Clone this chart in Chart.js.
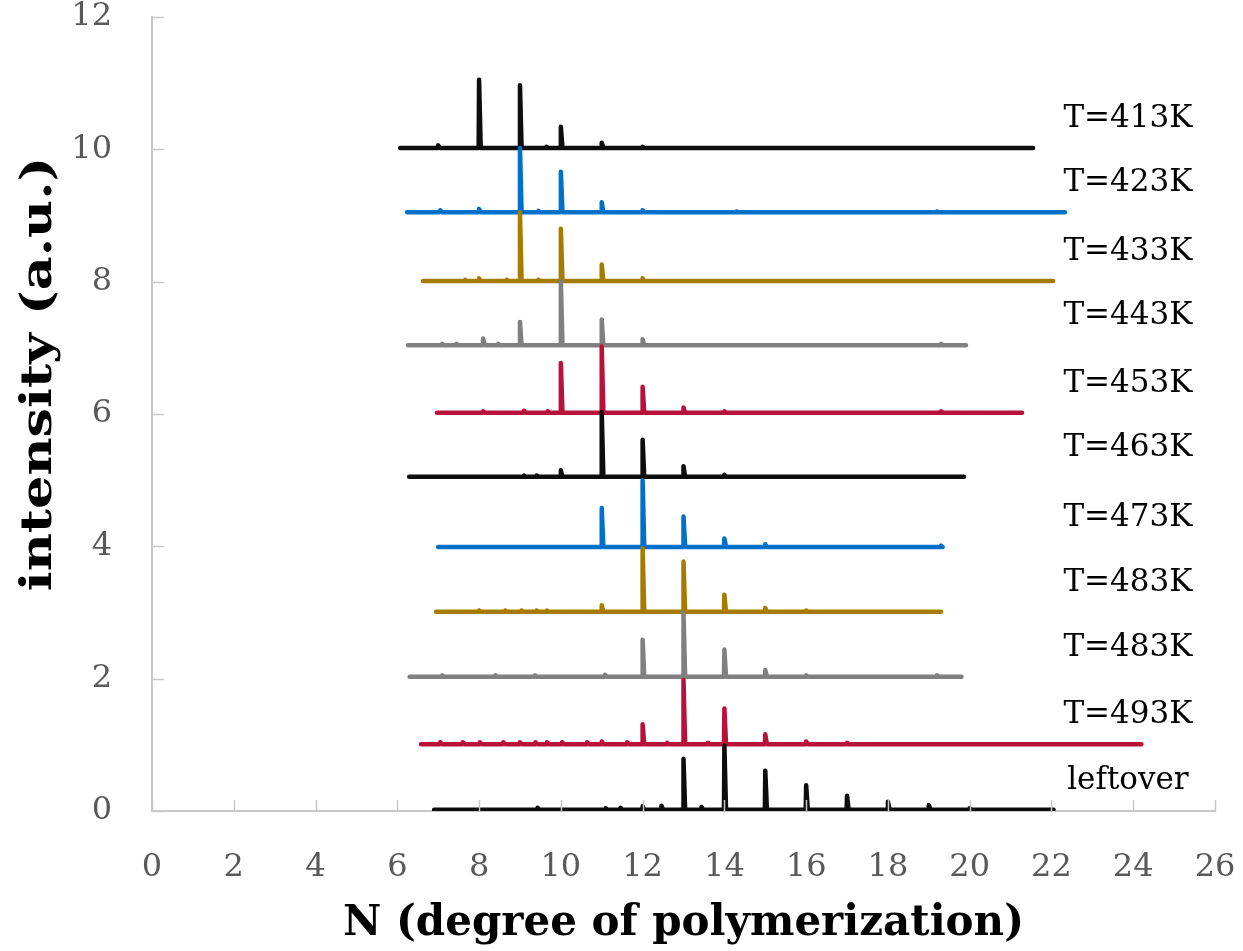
<!DOCTYPE html>
<html>
<head>
<meta charset="utf-8">
<script src="https://cdn.jsdelivr.net/npm/chart.js@4"></script>
<style>
  html, body { margin: 0; padding: 0; background: #fff; }
  #wrap { width: 1243px; height: 951px; }
</style>
</head>
<body>
<div id="wrap"><canvas id="chart" width="1243" height="951"></canvas></div>
<script>
// axis ticks
const xTicks = [0, 2, 4, 6, 8, 10, 12, 14, 16, 18, 20, 22, 24, 26];
const yTicks = [0, 2, 4, 6, 8, 10, 12];

// series (top to bottom)
const seriesLabels = ['T=413K', 'T=423K', 'T=433K', 'T=443K', 'T=453K', 'T=463K',
                      'T=473K', 'T=483K', 'T=483K', 'T=493K', 'leftover'];
const seriesColors = ['#0d0d0d', '#0070c8', '#a67c00', '#808080', '#b9123a', '#0d0d0d',
                      '#0070c8', '#a67c00', '#808080', '#b9123a', '#0d0d0d'];
const baselines = [10.02, 9.05, 8.01, 7.04, 6.02, 5.05, 3.99, 3.01, 2.03, 1.01, 0.02];
const startN = [6.07, 6.24, 6.63, 6.26, 6.97, 6.29, 7.0, 6.95, 6.3, 6.58, 6.9];
const endN = [21.55, 22.33, 22.04, 19.91, 21.28, 19.86, 19.3, 19.3, 19.8, 24.2, 22.05];

// peak positions (N) and peak intensity
const peakN_413 = [7, 8, 9, 9.65, 10, 11, 12];
const peakI_413 = [10.06, 11.05, 10.97, 10.04, 10.34, 10.1, 10.04];
const peakN_423 = [7.05, 8, 9, 9.45, 10, 11, 12, 14.3, 19.2];
const peakI_423 = [9.08, 9.1, 10.02, 9.07, 9.66, 9.2, 9.08, 9.06, 9.06];
const peakN_433 = [7.66, 8, 8.68, 9, 9.45, 10, 11, 12];
const peakI_433 = [8.03, 8.05, 8.03, 9.05, 8.03, 8.8, 8.26, 8.05];
const peakN_443 = [7.1, 7.45, 8.1, 8.47, 9, 10, 11, 12, 19.3];
const peakI_443 = [7.06, 7.06, 7.14, 7.06, 7.39, 8.01, 7.43, 7.13, 7.06];
const peakN_453 = [8.1, 9.1, 9.68, 10, 11, 12, 13, 14, 19.3];
const peakI_453 = [6.04, 6.05, 6.04, 6.77, 7.02, 6.41, 6.1, 6.04, 6.04];
const peakN_463 = [9.1, 9.41, 10, 11, 12, 13, 14];
const peakI_463 = [5.07, 5.07, 5.15, 6.03, 5.61, 5.21, 5.08];
const peakN_473 = [11, 12, 13, 14, 15, 19.3];
const peakI_473 = [4.58, 5.0, 4.45, 4.12, 4.03, 4.01];
const peakN_483a = [8, 8.64, 9.04, 9.41, 9.66, 11, 12, 13, 14, 15, 16];
const peakI_483a = [3.03, 3.03, 3.03, 3.03, 3.03, 3.11, 3.97, 3.77, 3.27, 3.07, 3.03];
const peakN_483b = [7.1, 8.4, 9.37, 11.08, 12, 13, 14, 15, 16, 19.2];
const peakI_483b = [2.05, 2.05, 2.05, 2.06, 2.59, 3.0, 2.44, 2.13, 2.05, 2.05];
const peakN_493 = [7.05, 7.6, 8.02, 8.59, 9, 9.38, 9.66, 10.03, 10.64, 11, 11.62,
                   12, 12.6, 13, 13.6, 14, 15, 16, 17];
const peakI_493 = [1.04, 1.04, 1.04, 1.04, 1.04, 1.04, 1.04, 1.04, 1.04, 1.05, 1.04,
                   1.31, 1.03, 1.98, 1.03, 1.55, 1.16, 1.05, 1.03];
const peakN_left = [9.43, 11.1, 11.46, 12, 12.46, 13, 13.44, 14, 15, 16, 17, 18, 19, 20];
const peakI_left = [0.05, 0.04, 0.05, 0.07, 0.08, 0.79, 0.06, 0.99, 0.61, 0.39, 0.23, 0.14, 0.09, 0.04];

const peakN = [peakN_413, peakN_423, peakN_433, peakN_443, peakN_453, peakN_463,
               peakN_473, peakN_483a, peakN_483b, peakN_493, peakN_left];
const peakI = [peakI_413, peakI_423, peakI_433, peakI_443, peakI_453, peakI_463,
               peakI_473, peakI_483a, peakI_483b, peakI_493, peakI_left];

const FONT = "'DejaVu Serif', Georgia, serif";

// build a spectrum trace: flat baseline with narrow peaks
function buildTrace(i) {
    const base = baselines[i];
    const pts = [{ x: startN[i], y: base }];
    for (let k = 0; k < peakN[i].length; k++) {
        const n = peakN[i][k];
        pts.push({ x: n - 0.01, y: base });
        pts.push({ x: n, y: peakI[i][k] });
        pts.push({ x: n + 0.04, y: base });
    }
    pts.push({ x: endN[i], y: base });
    return pts;
}

const datasets = seriesLabels.map(function(label, i) {
    return {
        label: label,
        data: buildTrace(i),
        borderColor: seriesColors[i],
        borderWidth: 4.5,
        borderCapStyle: 'round',
        borderJoinStyle: 'round',
        pointRadius: 0,
        showLine: true,
        fill: false,
        tension: 0
    };
}).reverse();

// short tick marks pointing into the plot
const innerTicks = {
    id: 'innerTicks',
    afterDatasetsDraw(chart) {
        const ctx = chart.ctx;
        const xs = chart.scales.x, ys = chart.scales.y;
        ctx.save();
        ctx.strokeStyle = '#c8c8c8';
        ctx.lineWidth = 1.5;
        xTicks.forEach(function(v) {
            const px = Math.round(xs.getPixelForValue(v)) + 0.5;
            ctx.beginPath();
            ctx.moveTo(px, ys.bottom);
            ctx.lineTo(px, ys.bottom - 11);
            ctx.stroke();
        });
        yTicks.forEach(function(v) {
            const py = Math.round(ys.getPixelForValue(v)) + 0.5;
            ctx.beginPath();
            ctx.moveTo(xs.left, py);
            ctx.lineTo(xs.left + 12, py);
            ctx.stroke();
        });
        ctx.restore();
    }
};

// temperature labels to the right of each trace, and the y axis title
const traceLabels = {
    id: 'traceLabels',
    afterDatasetsDraw(chart) {
        const ctx = chart.ctx;
        const xs = chart.scales.x, ys = chart.scales.y;
        ctx.save();
        ctx.fillStyle = '#000';
        ctx.font = '31px ' + FONT;
        ctx.textAlign = 'center';
        ctx.textBaseline = 'middle';
        seriesLabels.forEach(function(label, i) {
            ctx.fillText(label, xs.getPixelForValue(23.87), ys.getPixelForValue(baselines[i] + 0.44));
        });
        ctx.restore();

        // y title, a little stretched along its length like the original
        ctx.save();
        ctx.translate(40, (ys.top + ys.bottom) / 2 - 40);
        ctx.rotate(-Math.PI / 2);
        ctx.scale(1.22, 1);
        ctx.fillStyle = '#000';
        ctx.font = 'bold 43px ' + FONT;
        ctx.textAlign = 'center';
        ctx.textBaseline = 'middle';
        ctx.fillText('intensity (a.u.)', 0, 0);
        ctx.restore();
    }
};

function clearPadding(scale) {
    scale.paddingTop = 0;
    scale.paddingBottom = 0;
    scale.paddingLeft = 0;
    scale.paddingRight = 0;
}

new Chart(document.getElementById('chart'), {
    type: 'scatter',
    data: { datasets: datasets },
    plugins: [innerTicks, traceLabels],
    options: {
        responsive: false,
        animation: false,
        layout: { padding: { top: 17, right: 28, left: 0, bottom: 0 } },
        plugins: {
            legend: { display: false },
            tooltip: { enabled: false }
        },
        scales: {
            x: {
                type: 'linear',
                min: 0,
                max: 26,
                afterBuildTicks: function(scale) {
                    scale.ticks = xTicks.map(v => ({ value: v }));
                },
                afterFit: function(scale) { scale.height = 140; clearPadding(scale); },
                grid: { drawOnChartArea: false, drawTicks: false },
                border: { color: '#c8c8c8', width: 2 },
                ticks: {
                    color: '#595959',
                    font: { family: FONT, size: 32 },
                    padding: 37,
                    maxRotation: 0
                },
                title: {
                    display: true,
                    text: 'N (degree of polymerization)',
                    color: '#000',
                    font: { family: FONT, size: 42, weight: 'bold' },
                    padding: { top: 0, bottom: 2 }
                }
            },
            y: {
                type: 'linear',
                min: 0,
                max: 12,
                afterBuildTicks: function(scale) {
                    scale.ticks = yTicks.map(v => ({ value: v }));
                },
                afterFit: function(scale) { scale.width = 152; clearPadding(scale); },
                grid: { drawOnChartArea: false, drawTicks: false },
                border: { color: '#c8c8c8', width: 2 },
                ticks: {
                    color: '#595959',
                    font: { family: FONT, size: 32 },
                    padding: 40
                },
                title: { display: false }
            }
        }
    }
});
</script>
</body>
</html>
